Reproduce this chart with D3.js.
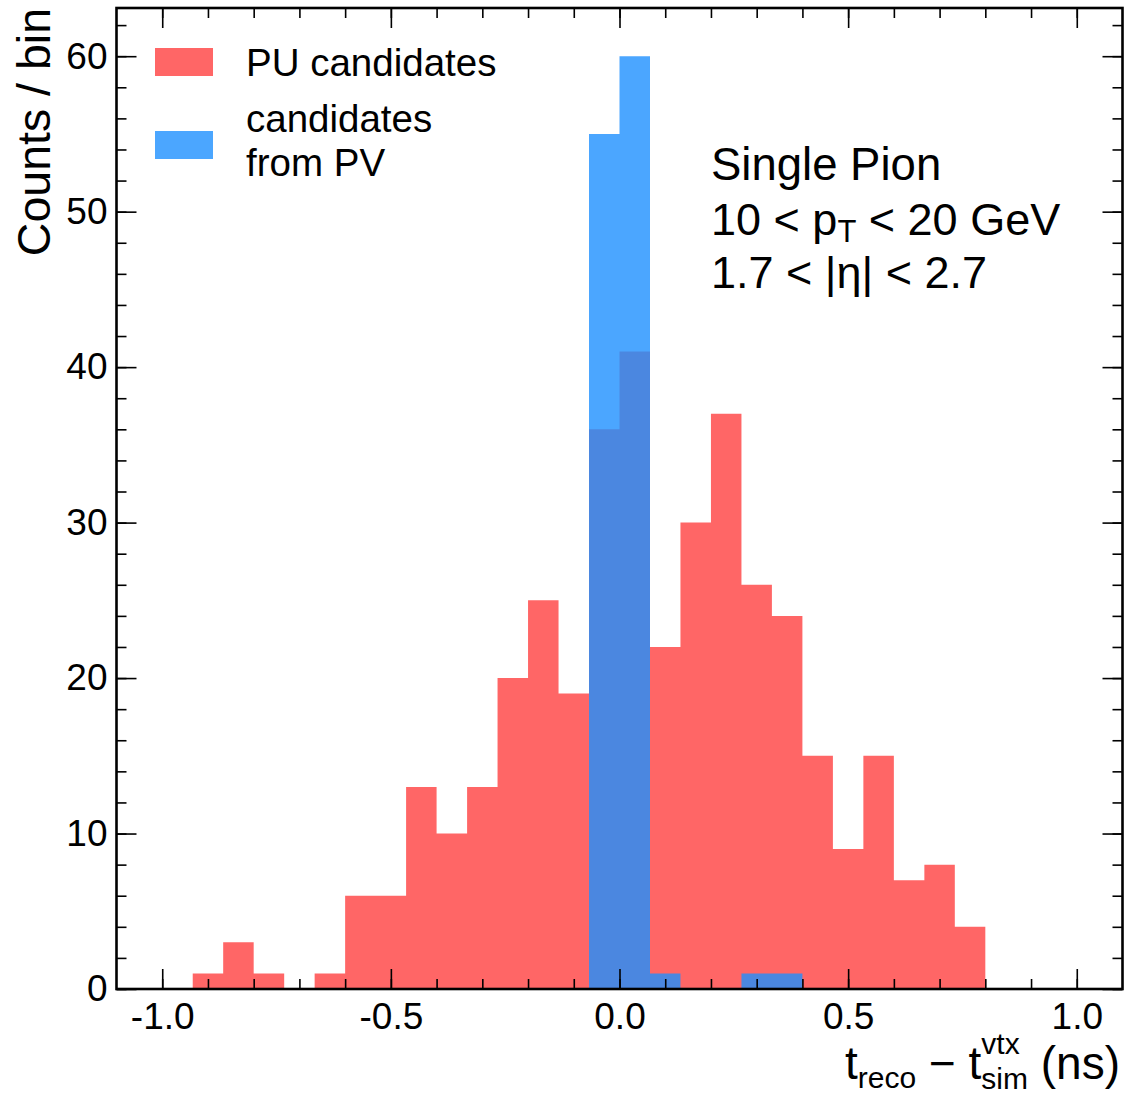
<!DOCTYPE html>
<html><head><meta charset="utf-8">
<script src="https://cdn.jsdelivr.net/npm/d3@7"></script>
<style>
body{margin:0;background:#fff}
text{font-family:"Liberation Sans",Arial,Helvetica,sans-serif;fill:#000}
</style>
</head><body>
<svg id="c" width="1127" height="1098"></svg>
<script>
// ---- data ----
const binEdges = [-1.0,-0.9333,-0.8667,-0.8,-0.7333,-0.6667,-0.6,-0.5333,-0.4667,-0.4,-0.3333,-0.2667,-0.2,-0.1333,-0.0667,0.0,
  0.0667,0.1333,0.2,0.2667,0.3333,0.4,0.4667,0.5333,0.6,0.6667,0.7333,0.8,0.8667,0.9333,1.0];
const puCounts = [0,1,3,1,0,1,6,6,13,10,13,20,25,19,36,41,22,30,37,26,24,15,9,15,7,8,4,0,0,0];
const pvCounts = [0,0,0,0,0,0,0,0,0,0,0,0,0,0,55,60,1,0,0,1,1,0,0,0,0,0,0,0,0,0];
const seriesNames = ["PU candidates", "candidates", "from PV"];
const xMajorTicks = [-1.0,-0.5,0.0,0.5,1.0];
const xTickLabels = ["-1.0","-0.5","0.0","0.5","1.0"];
const xMinorTicks = [-1.0,-0.9,-0.8,-0.7,-0.6,-0.5,-0.4,-0.3,-0.2,-0.1,0.0,0.1,0.2,0.3,0.4,0.5,0.6,0.7,0.8,0.9,1.0];
const yMajorTicks = [0,10,20,30,40,50,60];
const yMinorTicks = [0,2,4,6,8,10,12,14,16,18,20,22,24,26,28,30,32,34,36,38,40,42,44,46,48,50,52,54,56,58,60,62];
const infoLines = ["Single Pion", "10 < p|T| < 20 GeV", "1.7 < |η| < 2.7"];

// ---- layout ----
const L = 116.5, R = 1122.5, T = 8, B = 989;
const svg = d3.select("#c");
const x = d3.scaleLinear().domain([-1.1, 1.1]).range([L, R]);
const y = d3.scaleLinear().domain([0, 63.1]).range([B, T]);

const red = "#ff0000", redOp = 0.6;
const blue = "#1e90ff", blueOp = 0.8;

function stepPts(counts){
  const pts = counts.map((c,i)=>[binEdges[i], c]);
  pts.push([binEdges[binEdges.length-1], counts[counts.length-1]]);
  return pts;
}
const area = d3.area().curve(d3.curveStepAfter)
  .x(d=>x(d[0])).y0(y(0)).y1(d=>y(d[1]));

const plot = svg.append("g");
plot.append("path").attr("d", area(stepPts(puCounts)))
  .attr("fill", red).attr("fill-opacity", redOp);
plot.append("path").attr("d", area(stepPts(pvCounts)))
  .attr("fill", blue).attr("fill-opacity", blueOp);

// ---- axes ----
function styleAxis(g){
  g.select(".domain").remove();
  g.selectAll(".tick line").attr("stroke","#000").attr("stroke-width",1.6);
}
svg.append("g").attr("transform",`translate(0,${B})`)
  .call(d3.axisBottom(x).tickValues(xMinorTicks).tickSize(-10).tickFormat("")).call(styleAxis);
svg.append("g").attr("transform",`translate(0,${B})`)
  .call(d3.axisBottom(x).tickValues(xMajorTicks).tickSize(-20).tickPadding(14)
    .tickFormat((d,i)=>xTickLabels[i]))
  .call(styleAxis)
  .call(g=>g.selectAll("text").attr("font-size",37).attr("fill","#000"));
svg.append("g").attr("transform",`translate(0,${T})`)
  .call(d3.axisTop(x).tickValues(xMinorTicks).tickSize(-10).tickFormat("")).call(styleAxis);
svg.append("g").attr("transform",`translate(0,${T})`)
  .call(d3.axisTop(x).tickValues(xMajorTicks).tickSize(-20).tickFormat("")).call(styleAxis);

svg.append("g").attr("transform",`translate(${L},0)`)
  .call(d3.axisLeft(y).tickValues(yMinorTicks).tickSize(-10).tickFormat("")).call(styleAxis);
svg.append("g").attr("transform",`translate(${L},0)`)
  .call(d3.axisLeft(y).tickValues(yMajorTicks).tickSize(-20).tickPadding(9).tickFormat(d3.format("d")))
  .call(styleAxis)
  .call(g=>g.selectAll("text").attr("font-size",37).attr("fill","#000"));
svg.append("g").attr("transform",`translate(${R},0)`)
  .call(d3.axisRight(y).tickValues(yMinorTicks).tickSize(-10).tickFormat("")).call(styleAxis);
svg.append("g").attr("transform",`translate(${R},0)`)
  .call(d3.axisRight(y).tickValues(yMajorTicks).tickSize(-20).tickFormat("")).call(styleAxis);

// frame
svg.append("rect").attr("x",L).attr("y",T).attr("width",R-L).attr("height",B-T)
  .attr("fill","none").attr("stroke","#000").attr("stroke-width",2.6);

// ---- legend ----
const lg = svg.append("g");
lg.append("rect").attr("x",155).attr("y",48).attr("width",58).attr("height",28)
  .attr("fill",red).attr("fill-opacity",redOp);
lg.append("rect").attr("x",155).attr("y",131).attr("width",58).attr("height",28)
  .attr("fill",blue).attr("fill-opacity",blueOp);
lg.append("text").attr("x",246).attr("y",76).attr("font-size",38.5).text(seriesNames[0]);
lg.append("text").attr("x",246).attr("y",132).attr("font-size",38.5).text(seriesNames[1]);
lg.append("text").attr("x",246).attr("y",176).attr("font-size",38.5).text(seriesNames[2]);

// ---- info text ----
const info = svg.append("g");
info.append("text").attr("x",711).attr("y",180).attr("font-size",45.5).text(infoLines[0]);
const t2 = info.append("text").attr("x",711).attr("y",235).attr("font-size",45);
t2.append("tspan").text("10 < p");
t2.append("tspan").attr("font-size",31).attr("dy",7).text("T");
t2.append("tspan").attr("dy",-7).text(" < 20 GeV");
info.append("text").attr("x",711).attr("y",288).attr("font-size",45).text(infoLines[2]);

// ---- y title ----
svg.append("text").attr("transform","translate(50,8) rotate(-90)")
  .attr("text-anchor","end").attr("font-size",46.5).text("Counts / bin");

// ---- x title ----
const xt = svg.append("g");
const base = 1079, fs = 46, sfs = 30;
let cx = 0;
function piece(str, size, dy){
  const t = xt.append("text").attr("x",cx).attr("y",base+dy).attr("font-size",size)
    .attr("xml:space","preserve").style("white-space","pre").text(str);
  return t.node().getComputedTextLength();
}
cx += piece("t", fs, 0);
cx += piece("reco", sfs, 9);
cx += piece(" \u2212 t", fs, 0);
const wSup = piece("vtx", sfs, -25);
const wSub = piece("sim", sfs, 10);
cx += Math.max(wSup, wSub);
cx += piece(" (ns)", fs, 0);
xt.attr("transform",`translate(${1120-cx},0)`);
</script>
</body></html>
